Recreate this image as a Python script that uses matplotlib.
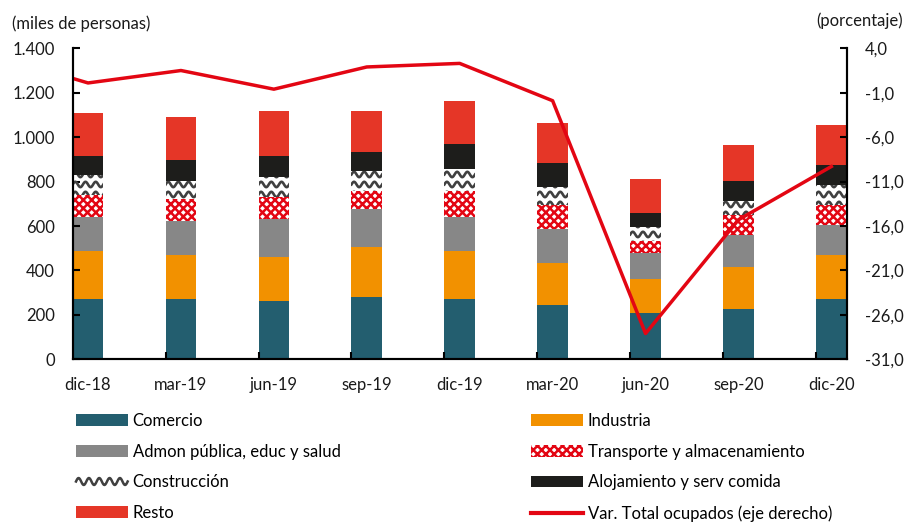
import numpy as np
import matplotlib
matplotlib.use('Agg')
import matplotlib.pyplot as plt
from matplotlib.patches import Rectangle
from matplotlib.lines import Line2D
from matplotlib.legend_handler import HandlerBase
from matplotlib.ticker import FuncFormatter

plt.rcParams['font.family'] = ['Lato', 'DejaVu Sans']
plt.rcParams['hatch.linewidth'] = 1.8

# datos (miles de personas)
fechas = ['dic-18', 'mar-19', 'jun-19', 'sep-19', 'dic-19', 'mar-20', 'jun-20', 'sep-20', 'dic-20']
comercio = [272, 272, 263, 281, 272, 246, 208, 226, 272]
industria = [216, 198, 198, 225, 216, 188, 153, 189, 198]
admon = [153, 153, 171, 171, 153, 153, 117, 144, 135]
transporte = [99, 99, 99, 81, 117, 108, 54, 90, 90]
construccion = [90, 81, 90, 90, 99, 81, 63, 63, 90]
alojamiento = [87, 96, 96, 87, 114, 107, 63, 89, 89]
resto = [191, 191, 200, 182, 192, 180, 153, 162, 180]

# variacion total ocupados (%), incluye sep-18 que queda fuera del eje
fechas_linea = ['sep-18'] + fechas
var_total = [3.2, 0.1, 1.5, -0.6, 1.9, 2.3, -1.9, -28.1, -15.3, -9.3]

ROJO = '#E30613'
ancho = 0.33


class HandlerOnda(HandlerBase):
    def create_artists(self, legend, orig_handle, xdescent, ydescent, width, height, fontsize, trans):
        fondo = Rectangle((-xdescent, -ydescent), width, height, facecolor='white',
                          edgecolor='none', transform=trans)
        xs = np.linspace(-xdescent, -xdescent + width, 80)
        ys = -ydescent + height / 2 + height * 0.3 * np.sin(2 * np.pi * (xs + xdescent) / (width / 5))
        onda = Line2D(xs, ys, color='#404040', lw=1.8, transform=trans)
        return [fondo, onda]


def dibujar_ondas(ax, barras):
    for rect in barras:
        x0, w = rect.get_x(), rect.get_width()
        y0, h = rect.get_y(), rect.get_height()
        xs = np.linspace(x0, x0 + w, 80)
        for fila in np.arange(np.floor(y0 / 45) * 45 + 22, y0 + h + 45, 45):
            ys = fila + 12 * np.sin(2 * np.pi * (xs - x0) / 0.11)
            onda, = ax.plot(xs, ys, color='#404040', lw=1.9, zorder=2.5)
            onda.set_clip_path(rect)


fig = plt.figure(figsize=(9.11, 5.25), dpi=100)
ax = fig.add_axes([72.7 / 911, 1 - 359.3 / 525, (846.7 - 72.7) / 911, (359.3 - 48.3) / 525])
ax2 = ax.twinx()

x = np.arange(len(fechas))
series = [
    ('Comercio', comercio, dict(color='#235E6F')),
    ('Industria', industria, dict(color='#F29100')),
    ('Admon pública, educ y salud', admon, dict(color='#878787')),
    ('Transporte y almacenamiento', transporte, dict(facecolor='white', edgecolor=ROJO, hatch='xxxx')),
    ('Construcción', construccion, dict(color='white')),
    ('Alojamiento y serv comida', alojamiento, dict(color='#1D1D1B')),
    ('Resto', resto, dict(color='#E53627')),
]

base = np.zeros(len(fechas))
handles = {}
for nombre, valores, estilo in series:
    barras = ax.bar(x, valores, ancho, bottom=base, linewidth=0, **estilo)
    if nombre == 'Construcción':
        dibujar_ondas(ax, barras)
        handles[nombre] = Rectangle((0, 0), 1, 1, facecolor='white')
    else:
        handles[nombre] = Rectangle((0, 0), 1, 1, linewidth=0, **estilo)
    base += np.array(valores)

x_linea = np.arange(-1, len(fechas))
linea, = ax2.plot(x_linea, var_total, color=ROJO, lw=2.5)
handles['Var. Total ocupados (eje derecho)'] = Line2D([], [], color=ROJO, lw=3)

ax.set_xlim(-ancho / 2, len(fechas) - 1 + ancho / 2)
ax.set_ylim(0, 1400)
ax.set_yticks(np.arange(0, 1401, 200))
ax.yaxis.set_major_formatter(FuncFormatter(lambda v, p: f'{v:,.0f}'.replace(',', '.')))
ax2.set_ylim(-31, 4)
ax2.set_yticks(np.arange(-31, 5, 5))
ax2.yaxis.set_major_formatter(FuncFormatter(lambda v, p: f'{v:.1f}'.replace('.', ',')))

ax.set_xticks(x)
ax.set_xticklabels(fechas)
ax.set_xticks(x[1:] - ancho / 2, minor=True)
ax.tick_params(axis='x', which='major', length=0, pad=13, labelsize=12, colors='#1a1a1a')
ax.tick_params(axis='x', which='minor', length=5, direction='in', width=1.5)
ax.tick_params(axis='y', length=5, direction='in', width=1.5, pad=13, labelsize=12, labelcolor='#1a1a1a')
ax2.tick_params(axis='y', length=5, direction='in', width=1.5, pad=13, labelsize=12, labelcolor='#1a1a1a')

for a in (ax, ax2):
    a.spines['top'].set_visible(False)
    for s in ('left', 'right', 'bottom'):
        a.spines[s].set_linewidth(1.5)

fig.text(12 / 911, 1 - 24 / 525, '(miles de personas)', fontsize=12, va='center', ha='left', color='#1a1a1a')
fig.text(903 / 911, 1 - 21 / 525, '(porcentaje)', fontsize=12, va='center', ha='right', color='#1a1a1a')

col1 = ['Comercio', 'Admon pública, educ y salud', 'Construcción', 'Resto']
col2 = ['Industria', 'Transporte y almacenamiento', 'Alojamiento y serv comida',
        'Var. Total ocupados (eje derecho)']
for col, xpos in ((col1, 76), (col2, 531)):
    fig.legend([handles[n] for n in col], col, loc='upper left',
               bbox_to_anchor=(xpos / 911, 1 - 413 / 525), frameon=False, fontsize=12,
               borderpad=0, borderaxespad=0, handlelength=3.1, handleheight=0.7,
               handletextpad=0.3, labelspacing=0.88,
               handler_map={handles['Construcción']: HandlerOnda()})

fig.savefig('out.png', dpi=100)
